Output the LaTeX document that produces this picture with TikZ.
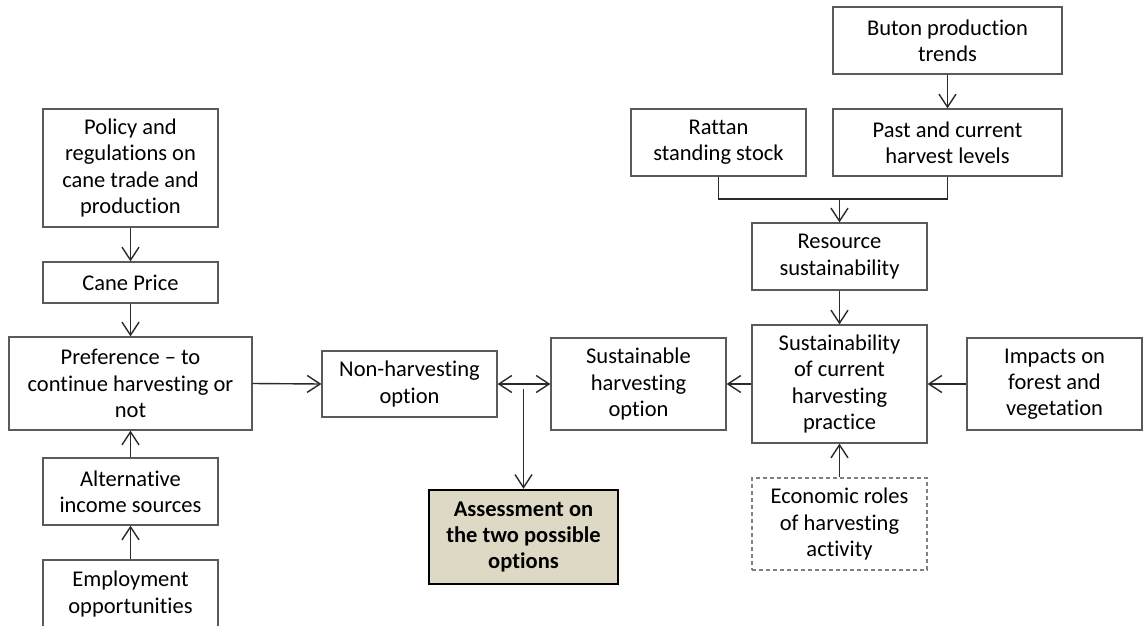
\documentclass[tikz,border=0pt]{standalone}
\usepackage{fontspec}
\setmainfont{Carlito}[Ligatures={NoCommon}]
\usetikzlibrary{arrows.meta}
\definecolor{boxline}{HTML}{5A5A5A}
\definecolor{conline}{HTML}{2A2A2A}
\definecolor{tanfill}{HTML}{DDD9C4}
\definecolor{txt}{HTML}{000000}
\begin{document}
\begin{tikzpicture}[x=1pt,y=-1pt,
  box/.style={draw=boxline, line width=1.2pt, align=center, inner sep=0pt,
    text=txt, font=\fontsize{22.5}{26.2}\selectfont, minimum width=175pt},
  dashbox/.style={box, draw=gray, dashed, dash pattern=on 4pt off 3pt},
  keybox/.style={box, draw=black, line width=2.4pt, fill=tanfill,
    font=\fontsize{22.5}{26.2}\selectfont\bfseries},
  conn/.style={draw=conline, line width=1.4pt},
  arr/.style={conn, -{Straight Barb[length=13pt,width=17pt,line width=1.4pt]}},
  darr/.style={conn, {Straight Barb[length=13pt,width=17pt,line width=1.4pt]}-{Straight Barb[length=13pt,width=17pt,line width=1.4pt]}}
]
\useasboundingbox (0,0) rectangle (1143,626);
\clip (0,0) rectangle (1143,626);
\fill[white] (0,0) rectangle (1143,626);

% left column
\node[box, minimum height=118pt] (policy) at (130.5,168) {Policy and\\regulations on\\cane trade and\\production};
\node[box, minimum height=41pt] (cane) at (130.5,282.5) {Cane Price};
\node[box, minimum width=243pt, minimum height=93pt] (pref) at (130.5,383.5) {Preference -- to\\continue harvesting or\\not};
\node[box, minimum height=67pt] (alt) at (130.5,491.5) {Alternative\\income sources};
\node[box, minimum height=68pt] (emp) at (130.5,594) {Employment\\opportunities};

% middle
\node[box, minimum height=66pt] (nonh) at (409.5,384) {Non-harvesting\\option};
\node[box, minimum height=92pt] (sust) at (638.5,384) {Sustainable\\harvesting\\option};
\node[keybox, minimum width=189pt, minimum height=94pt] (assess) at (523.5,537) {Assessment on\\the two possible\\options};

% right
\node[box, minimum width=229pt, minimum height=67pt] (buton) at (947.5,40.5) {Buton production\\trends};
\node[box, minimum height=67pt] (rattan) at (718.5,142.5) {Rattan\\standing stock};
\node[box, minimum width=229pt, minimum height=67pt] (past) at (947.5,142.5) {Past and current\\harvest levels};
\node[box, minimum height=67pt] (res) at (839.5,256.5) {Resource\\sustainability};
\node[box, minimum height=118pt] (scur) at (839.5,384) {Sustainability\\of current\\harvesting\\practice};
\node[box, minimum height=92pt] (imp) at (1054.5,384) {Impacts on\\forest and\\vegetation};
\node[dashbox, minimum height=92pt] (econ) at (839.5,524) {Economic roles\\of harvesting\\activity};

\coordinate (j) at (839.5,199);
\coordinate (a) at (523.5,389);

% connectors
\draw[arr] (policy) -- (cane);
\draw[arr] (cane) -- (pref);
\draw[arr] (alt) -- (pref);
\draw[arr] (emp) -- (alt);
\draw[arr] (pref.east) -- (nonh.west);
\draw[darr] (nonh.east) -- (sust.west);
\draw[arr] (a) -- (assess.north);
\draw[arr] (scur.west) -- (sust.east);
\draw[arr] (imp.west) -- (scur.east);
\draw[arr] (econ) -- (scur);
\draw[arr] (res) -- (scur);
\draw[arr] (buton) -- (past);
\draw[conn] (rattan.south) -- (rattan.south |- j) -- (past.south |- j) -- (past.south);
\draw[arr] (j) -- (res.north);
\end{tikzpicture}
\end{document}
